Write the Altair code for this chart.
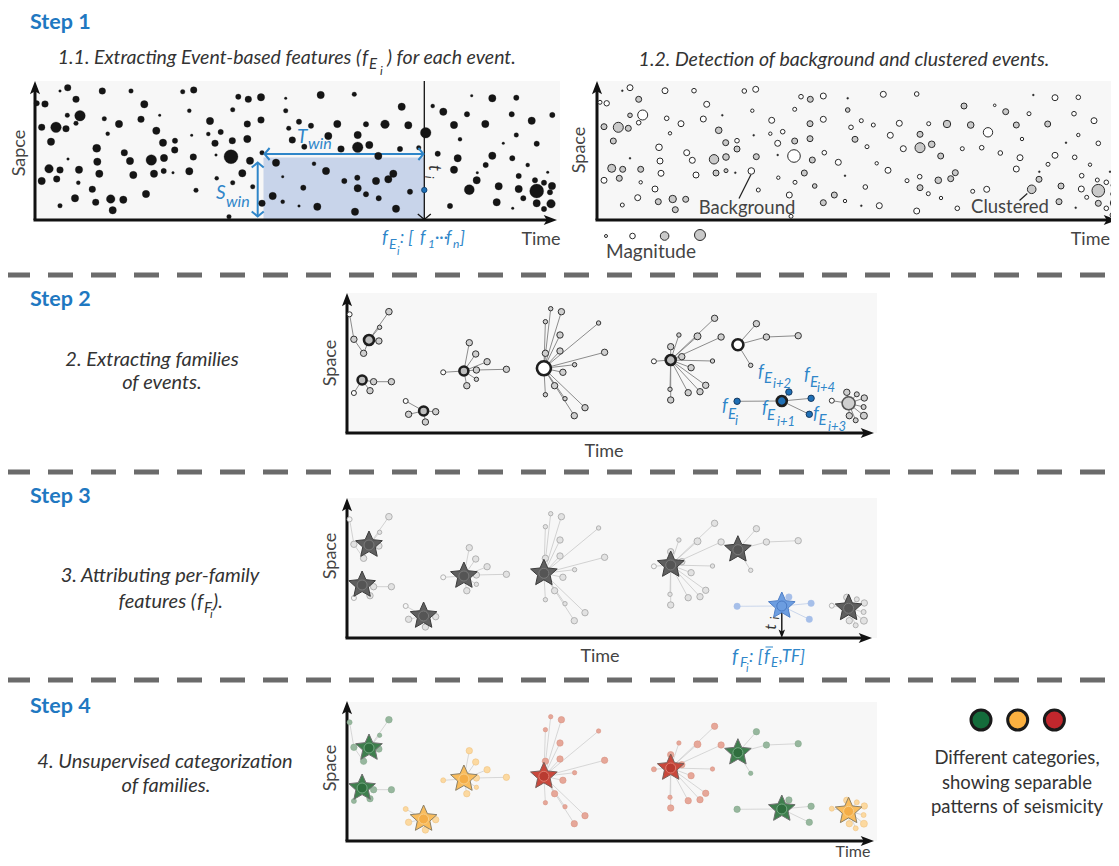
import math
import altair as alt
import pandas as pd

W, H = 1103, 850

# ---------------- DATA ----------------
# Step 1.1 events: (time, space, magnitude radius)
P11_EVENTS = [
    (67.7,87.7,3.3),(60,91,1.3),(102.3,91,3.3),(131,91,2.3),(182.7,91.7,2.3),(193.7,90,3.3),
    (36.7,103.3,2.7),(45,104,3.3),(76,99.3,3.3),(144.3,104.3,3.7),(238.3,96.7,2.7),(248.3,99.3,3.3),
    (261,97.3,3.7),(285.7,98.3,1.3),(80,115.7,5.3),(67.3,115.3,2.3),(104.3,118.7,2.3),(141,119.3,3.3),
    (159.7,115.3,1.3),(189.3,110.7,2),(232.7,109.7,2.3),(285.7,110.7,2.3),(41.7,127.3,3.3),(56,127.3,5.3),
    (66,128.7,3.3),(76,123.3,2.3),(119,124,3.7),(210,121,3.7),(247.3,124,3.3),(261,120,3.3),(288.7,128.3,2.3),
    (107.7,133.7,2),(156.3,130.7,3.7),(191.7,135.3,1.3),(208.3,134,2),(220.7,132,2.7),(51,141.7,3.7),
    (163,142.7,3.7),(175,140.7,2.7),(215,143.3,3.3),(232.3,140.7,3.3),(247.3,139,3.7),(292.3,140,3.3),
    (96.7,148.3,4),(174.7,150,3.3),(124.3,152.7,3.3),(231,156.7,7),(193.3,157,3.3),(216,155,1.3),
    (262,152.7,2.3),(68,159,1.3),(97.3,161.7,3.7),(130,161,3.7),(151.3,160,5.3),(164,158,3.7),
    (250,160.7,3.7),(276,162.7,3.7),(49,168.7,4.3),(60,170,3.3),(79,169.7,3.7),(99.3,173.7,3.7),
    (133.3,175,3.7),(154,173.7,3.7),(163.7,171,2.7),(173,172.7,1.3),(189.3,171.3,3.7),(242.3,173.3,3.7),
    (41.7,181,3.7),(56.7,179,3.3),(78.3,182.7,2),(232.7,182.7,2.3),(282.7,176.7,1.3),(252.7,186.7,2.3),
    (92.3,189.3,3.3),(196,190.3,2.3),(146,194,3.7),(75,198.3,3.7),(110.7,199,4.3),(123.3,199.7,3.7),
    (95.7,202.3,3.3),(60,205.7,2.3),(112.7,210.3,3.7),(262,203.3,3.3),(272.7,196,3.7),(282.7,201.7,2),
    (216.7,178.3,2),(229,216.7,2.3),
    (320.7,95,3.7),(354.3,94.3,2.3),(401.7,106.7,3.7),(299,121.7,2.7),(311,125.7,2.7),(337.3,124,3.7),
    (366,124.3,2.7),(385,124.3,4.3),(408.3,125.3,3.7),(425.7,132.7,5.3),(328.3,136,3.7),(357.7,135,3.7),
    (304.3,146.7,2.7),(341,149,3.3),(357.7,147.3,5.3),(369.3,145,3.7),(400,149,2.7),(418.7,147.7,2.3),
    (378.3,156,3.7),(314,163.7,2),(326,171,3.7),(344.3,181,2.7),(357.3,177.7,2.7),(376,181,3.7),
    (388.3,179.3,3.7),(393.3,173.7,3.7),(303.3,187.7,2.7),(357.7,188.3,3.7),(366,194.3,2.7),(410,191.7,2.7),
    (378.7,198.3,2.7),(299,206,1.3),(317.3,206.7,3.7),(355,211.7,3.7),(396,208.7,3.7),
    (432.7,106,2),(443.3,111.7,3.7),(471.7,95.7,1.3),(492.3,98.3,3.7),(516.3,97.7,2.7),(467,114.3,2.7),
    (511.7,114.3,2.7),(531.7,120.7,3.7),(552.3,115,2.7),(454,125,3.7),(485.3,124,3.7),(516.3,135,2.3),
    (460,139.3,2),(503.3,143.3,1.3),(536.7,143.7,2.7),(437.7,153.7,2.7),(457.7,158.3,3.7),(492.3,155.7,3.7),
    (512.3,158.3,2.7),(454,169.7,3.7),(485.7,165,2.7),(527.7,165,2),(477.3,172.7,1.3),(547.7,172.3,1.3),
    (518.7,176,2.7),(476.7,180.3,3.7),(469.3,189.7,5),(498.7,186.3,3.7),(518.7,189,3.7),(536.7,191,7),
    (535,180.3,2.7),(544,182.7,2.7),(552,186,3.7),(523.3,198.3,2.7),(550,192.3,2.7),(496.7,202.3,3.7),
    (536.7,203.3,3.7),(551,203.7,4.3),(512.7,208.3,1.3),(544,209,2.7),(450,206,2.7),
]
P11_FOCUS = [(424.3, 190.0, 2.7)]

# Step 1.2 events: (time, space, magnitude radius, class) o=background g=clustered d=tiny
P12_EVENTS = [
    (622.3,90.7,1,'d'),(630,87.7,3,'o'),(665,90.7,3,'o'),(694,90.7,2.3,'o'),(744.3,91,2.3,'o'),(755.7,89.3,3,'o'),
    (600,102.3,2,'o'),(606.7,103.3,2.7,'o'),(638.7,99.3,3,'g'),(706.7,104.3,3,'o'),(801,96.7,2.3,'o'),
    (810.3,99.3,3,'g'),(823.3,96,3,'o'),(847.7,98.3,1,'d'),(630,115.3,2.3,'g'),(642.7,115,5,'o'),
    (638.7,122.7,2.3,'o'),(666.7,118.3,2.3,'o'),(681,123.7,3,'o'),(703.3,119,3,'o'),(722.3,115.3,1,'d'),
    (752.3,110.7,1.7,'o'),(794.7,109.3,2,'o'),(847.7,110,2.3,'g'),(604,126.7,3,'g'),(618.3,127.3,5,'g'),
    (628.3,128.3,3,'g'),(670,133.3,1.7,'o'),(718.7,130.3,3.3,'g'),(753.7,135.3,1,'d'),(771.7,120.3,3,'o'),
    (770.3,133.7,1.7,'o'),(782.7,131.7,2.3,'o'),(810,123.7,3,'g'),(823.3,119.3,3,'o'),(851,127.3,2.3,'o'),
    (613.3,141,3,'g'),(725.7,142.7,3,'g'),(737,140.7,2.3,'o'),(777.7,143.3,3,'o'),(794.7,141,3,'g'),
    (810,138.7,3,'g'),(855,139.3,3,'g'),(659,147.3,3.3,'o'),(737,149,3,'g'),(686.7,152.7,3,'o'),
    (794,156,6.3,'o'),(756.3,156.7,3,'g'),(777.7,155,1,'d'),(824.3,152.7,2.3,'o'),(630,158.3,1,'d'),
    (660,161,3,'o'),(692.3,160.3,3,'o'),(714,159.3,4.7,'g'),(726,157,3.3,'g'),(812.3,160,3,'g'),
    (838.3,162.3,3,'o'),(611.7,168.3,4,'g'),(622.7,169.3,3,'g'),(640.7,169.3,3,'g'),(661,173.3,3,'o'),
    (696,175,3,'o'),(716,173,3,'g'),(726,170.7,2,'g'),(735.3,172.7,1,'d'),(751.3,171,3.3,'o'),
    (804.3,173,3,'g'),(604,180.3,3,'o'),(619.3,178.3,3,'g'),(640.7,182.3,1.7,'o'),(778.3,177.7,1.7,'o'),
    (795,182.3,2,'o'),(845,175.7,1,'d'),(814.7,186,2.3,'g'),(655,189,3,'o'),(758.3,190,2,'o'),
    (637.7,197.7,3,'o'),(622.3,205,2,'o'),(658.3,201.7,3,'g'),(672.7,199,3.7,'g'),(685.7,199.3,3,'g'),
    (675.3,209.7,3,'g'),(789.3,195,3,'o'),(834.3,195,3,'g'),(823.3,202.7,3,'g'),(845,201,1.7,'o'),
    (791,216.3,2,'o'),
    (883.3,94.3,3,'o'),(916.7,94,2.3,'o'),(964,106,3,'g'),(994.7,105.3,1.3,'o'),(1005.7,111.7,3,'g'),
    (1033.3,95,1,'d'),(1055,97.7,3,'o'),(1078.3,97.3,2.3,'o'),(1029,113.7,2,'o'),(1074,113.7,2.3,'o'),
    (1094,120.7,3,'o'),(1114.7,114.3,2.3,'o'),(861.3,120.7,2,'o'),(873.3,125,2,'o'),(899.3,123.3,3,'o'),
    (928.7,123.7,2,'o'),(947,124,3.7,'g'),(970.7,125,3.3,'g'),(988,132.3,4.7,'o'),(1016.3,125,3,'g'),
    (1047.7,124,3,'g'),(1078.3,135,1.7,'o'),(867,146.7,2,'o'),(890.3,135.3,3,'o'),(920,134.3,3,'g'),
    (903.3,148.7,3,'o'),(920,147.7,5,'g'),(931.7,144.3,3.3,'g'),(940.7,156,3,'g'),(962.3,148.7,2,'o'),
    (981.7,147.7,2.3,'o'),(1000.3,153,2.3,'o'),(1022,139,1.7,'o'),(1066,142.7,1,'d'),(1098.3,143.3,2.3,'o'),
    (1020,157.7,3,'o'),(1055,155.3,3,'o'),(1074.7,157.3,2.3,'o'),(876.7,163.3,1.7,'o'),(888,170.3,3,'o'),
    (1048,164.3,2,'o'),(1090,164.7,1.7,'o'),(1016.3,169,3,'o'),(1039.3,171.7,1,'d'),(1110,171.7,1,'d'),
    (955.3,172.7,3,'g'),(950.7,178.7,3,'g'),(938.3,180.3,3.3,'g'),(919.7,176.7,2.3,'o'),(907,180.7,2,'o'),
    (1039,179.3,3,'g'),(1081.7,175.7,2.3,'o'),(1098.3,190.7,6.3,'g'),(1106.3,182.3,2.3,'o'),(1114,185.3,3,'g'),
    (1097.3,180,2,'o'),(865.3,187,2.3,'o'),(920,187.7,3,'g'),(928.3,193.7,2,'o'),(941,198,1.7,'o'),
    (972.7,191.3,2,'o'),(986.7,189.3,3,'o'),(1031.7,189.3,4.3,'g'),(1061,186,3,'g'),(1081.3,189,3,'o'),
    (1086.7,197.3,2,'o'),(1113,194,2.3,'o'),(861.3,205.7,1,'d'),(879.3,205.7,3,'o'),(916.7,211,3,'o'),
    (957.3,208.3,2.3,'o'),(1059,201.7,3,'g'),(1075.7,207.7,1,'d'),(1098.3,203.3,3,'g'),(1106.3,208.3,2.3,'o'),
    (1114,203,3.7,'g'),(1112.3,215,2.3,'o'),
]
MAG_LEGEND = [(606,236,1.5,'o'),(632.5,236,2.8,'o'),(664.6,236,4.3,'g'),(700,235,5.5,'g')]

# Families: events as (time, space, radius, kind, parent index); index 0 is the main event
FAMILIES = [
    dict(cat='green', main=(22,93,5,'ring'), members=[
        (41.9,121.3,3.3,'g',0),(32.6,105.7,2.2,'g',0),(31.9,92,3.2,'g',0),(16.6,79.7,3.2,'g',0),
        (6.9,93.7,3.2,'g',4),(2.6,118.7,2.5,'o',5)]),
    dict(cat='green', main=(15.1,53,4.5,'ring'), members=[
        (26.6,51.3,3.2,'g',0),(44.4,51.3,3.2,'g',1),(23,42.3,3.2,'g',0),(6.9,40,2.5,'o',0)]),
    dict(cat='yellow', main=(76.6,22,4.5,'ring'), members=[
        (58.7,32,2.5,'o',0),(61.6,18.7,3.2,'g',0),(88.7,21.3,3.2,'g',0),(78.4,11,3.2,'g',0)]),
    dict(cat='yellow', main=(116.9,62,4.5,'ring'), members=[
        (96.2,60.7,2.5,'o',0),(122.3,90.3,3.2,'g',0),(128.7,79,3.2,'g',0),(140.1,71.3,3.2,'g',0),
        (129.4,63,3.2,'g',0),(159.4,63.7,3.2,'g',5),(129.4,53.7,2.2,'g',0),(119.8,47.3,3.2,'g',0)]),
    dict(cat='red', main=(196.9,64.7,7,'open'), members=[
        (203.7,124.3,2.2,'g',0),(214.4,121.3,3.2,'g',0),(198.4,111.3,2.2,'g',0),(213,98,3.2,'g',0),
        (251.6,110,2.2,'g',0),(213,82,3.2,'g',0),(198.4,79.7,3.2,'g',0),(257.6,80.7,3.2,'g',0),
        (227.6,68.3,2.2,'g',0),(215.9,60.7,3.2,'g',0),(207.6,47.3,3.2,'g',0),(198.4,38.3,2.2,'g',0),
        (218,34.3,2.2,'g',0),(238,25.3,3.2,'g',0),(227.3,17.3,3.2,'g',0)]),
    dict(cat='red', main=(323.7,73,5,'ring'), members=[
        (306.9,71.7,2.5,'o',0),(367.6,114.7,3.2,'g',0),(331.9,98,2.2,'g',0),(350.5,96.7,3.5,'g',0),
        (374.1,96,3.2,'g',0),(323.7,86.3,3.2,'g',0),(334.8,76.3,3.2,'g',0),(365.5,72,2.2,'g',0),
        (344.1,65.3,3.2,'g',0),(358.7,47.7,3.2,'g',0),(353,41.3,3.2,'g',0),(323,43.7,2.2,'g',0),
        (341.2,40.3,3.2,'g',0),(323.7,33,3.2,'g',0)]),
    dict(cat='green', main=(390.9,88.3,5.5,'open'), members=[
        (409.4,109.3,3.2,'g',0),(419.4,96,3.2,'g',0),(451.2,97.3,3.2,'g',2),(403.7,67.7,2.2,'g',0)]),
    dict(cat='green', main=(434.8,32,5,'blue'), members=[
        (390.1,31.7,3.2,'b',0),(441.9,41,3.2,'b',0),(464.1,34.7,3.2,'b',0),(462.3,18.7,3.2,'b',0)]),
    dict(cat='yellow', main=(501.6,29.7,6.5,'plain'), members=[
        (484.8,32.3,2.5,'o',0),(499.8,40.7,3.2,'g',0),(509.8,38.7,2.5,'g',0),(517.3,35,3.2,'g',0),
        (516.6,26,2.5,'g',0),(516.9,17.3,3.5,'g',0),(502.3,17.3,3.2,'g',0),(508.7,12.7,2.5,'g',0)]),
]
HIGHLIGHT_FAMILY = 7
CATEGORIES = ['green', 'yellow', 'red']
CAT_COLORS = {'green': '#146c3b', 'yellow': '#fbb040', 'red': '#c1272d'}

# ---------------- LAYOUT / STYLE ----------------
PANEL_ORIGIN = {2: (347, 433), 3: (347, 638), 4: (347, 841)}
BLUE = '#2f86c9'
STEP_BLUE = '#1f78c1'
TXT = '#333333'
LBL = '#444444'
CAT_STYLE = {
    'green': dict(star='#3f7f4e', sstroke='#6f6f6f', inner='#2f6e3e', istroke='#74a982', member='#97b79e', mstroke='#86a98d'),
    'yellow': dict(star='#f9bc5c', sstroke='#8c8066', inner='#f4ad47', istroke='#f8cf8a', member='#fcd9a0', mstroke='#eec383'),
    'red': dict(star='#c9483c', sstroke='#7a5f5a', inner='#b93b31', istroke='#e07b6e', member='#e6a799', mstroke='#d99383'),
}

rects, lines, dashes, heads, vheads = [], [], [], [], []
circ_under, stars, circ_over, texts = [], [], [], []


def circ(lst, x, y, r, fill, stroke, sw):
    lst.append(dict(x=x, y=y, size=(2 * r) ** 2, fill=fill, stroke=stroke, sw=sw))


def line(x, y, x2, y2, color, width):
    lines.append(dict(x=x, y=y, x2=x2, y2=y2, color=color, width=width))


def arrow_head(tx, ty, ang, r=7.0, color='#111111'):
    a = math.radians(ang)
    heads.append(dict(x=tx - r * math.sin(a), y=ty + r * math.cos(a), angle=ang,
                      size=(2 * r) ** 2, color=color))


def v_head(tx, ty, ang, r=6.0, color=BLUE, width=2.0):
    vheads.append(dict(x=tx, y=ty, angle=ang, size=(2 * r) ** 2, color=color, width=width))


def txt(x, y, s, size=17, color=TXT, style='normal', weight='normal', align='left', angle=0):
    texts.append(dict(x=x, y=y, text=s, size=size, color=color, style=style,
                      weight=weight, align=align, angle=angle))


def axes(ox, oy, ytop, xtip):
    line(ox, oy, ox, ytop + 8, '#111111', 3)
    line(ox - 1.5, oy, xtip - 8, oy, '#111111', 3)
    arrow_head(ox, ytop, 0)
    arrow_head(xtip, oy, 90)


# backgrounds
for bx, bx2, by, by2 in [(35, 560, 81, 220), (597, 1119, 81, 220), (347, 877, 293, 433),
                         (347, 877, 498, 638), (347, 877, 702, 841)]:
    rects.append(dict(x=bx, x2=bx2, y=by, y2=by2, fill='#f7f7f7'))
rects.append(dict(x=263.5, x2=424.3, y=157.5, y2=220, fill='#c8d4ea'))

# separators
for sy in [275, 472, 680]:
    dashes.append(dict(x=5, x2=1119, y=sy, y2=sy))

# ---- Step 1.1
axes(35, 220, 81, 557)
for (x, y, r) in P11_EVENTS:
    circ(circ_under, x, y, r, '#151515', '#151515', 0.3)
line(424.3, 81, 424.3, 219, '#111111', 1.3)
v_head(424.3, 219.5, 180, r=6.5, color='#111111', width=1.3)
for (x, y, r) in P11_FOCUS:
    circ(circ_over, x, y, r, '#1f6fb5', '#0d3a66', 0.8)
line(265, 154, 423, 154, BLUE, 2)
v_head(264.5, 154, 270)
v_head(423.5, 154, 90)
line(257.7, 163, 257.7, 216, BLUE, 2)
v_head(257.7, 162.5, 0)
v_head(257.7, 216.5, 180)

# ---- Step 1.2
axes(597, 220, 81, 1117)
P12_STYLE = {'o': ('white', '#2a2a2a', 1.0), 'g': ('#c9c9c9', '#2a2a2a', 1.0), 'd': ('#2a2a2a', '#2a2a2a', 0.3)}
for (x, y, r, k) in P12_EVENTS + MAG_LEGEND:
    f, s, w = P12_STYLE[k]
    circ(circ_under, x, y, r, f, s, w)
line(751, 174.5, 739, 198.5, '#222222', 1.2)
line(1027.3, 193.5, 1019.5, 200.5, '#222222', 1.2)

# ---- Steps 2-4 (families)
for step in (2, 3, 4):
    ox, oy = PANEL_ORIGIN[step]
    axes(ox, oy, oy - 140, 874 if step != 3 else 872)
for fi, fam in enumerate(FAMILIES):
    ev = [fam['main'][:4] + (None,)] + list(fam['members'])
    hl = fi == HIGHLIGHT_FAMILY
    cs = CAT_STYLE[fam['cat']]
    for step in (2, 3, 4):
        ox, oy = PANEL_ORIGIN[step]
        P = [(ox + t, oy - s) for (t, s, _r, _k, _p) in ev]
        for i, (t, s, r, k, p) in enumerate(ev):
            if p is None:
                continue
            if step == 2:
                col, w = '#8c8c8c', 1.0
            elif step == 3:
                col, w = ('#c5d2ea' if hl else '#cdcdcd'), 0.9
            else:
                col, w = '#d2d2d2', 0.9
            line(P[i][0], P[i][1], P[p][0], P[p][1], col, w)
        for i, (t, s, r, k, p) in enumerate(ev):
            if p is None:
                continue
            x, y = P[i]
            if step == 2:
                if k == 'b':
                    circ(circ_under, x, y, r, '#1f6fb5', '#173a60', 1.0)
                elif k == 'o':
                    circ(circ_under, x, y, r, 'white', '#333333', 1.0)
                else:
                    circ(circ_under, x, y, r, '#cfcfcf', '#333333', 1.0)
            elif step == 3:
                if hl:
                    circ(circ_under, x, y, r, '#a6bfe9', '#a6bfe9', 0.5)
                elif k == 'o':
                    circ(circ_under, x, y, r, '#f6f6f6', '#ababab', 0.9)
                else:
                    circ(circ_under, x, y, r, '#e2e2e2', '#ababab', 0.9)
            else:
                circ(circ_under, x, y, r, cs['member'], cs['mstroke'], 0.6)
        x, y = P[0]
        t, s, r, k, _ = ev[0]
        if step == 2:
            if k == 'ring':
                circ(circ_over, x, y, r, '#bdbdbd', '#1e1e1e', 2.6)
            elif k == 'open':
                circ(circ_over, x, y, r, 'white', '#1e1e1e', 2.6)
            elif k == 'blue':
                circ(circ_over, x, y, r, '#1f6fb5', '#1e1e1e', 2.6)
            else:
                circ(circ_over, x, y, r, '#cfcfcf', '#555555', 1.6)
        elif step == 3:
            if hl:
                stars.append(dict(x=x, y=y, size=28 ** 2, fill='#6c9de0', stroke='#4f7fc7', sw=1.0))
                circ(circ_over, x, y, 5, '#6c9de0', '#4a7ac4', 1.0)
            else:
                stars.append(dict(x=x, y=y, size=28 ** 2, fill='#5f5f5f', stroke='#3c3c3c', sw=1.0))
                circ(circ_over, x, y, 5, '#555555', '#7a7a7a', 1.0)
        else:
            stars.append(dict(x=x, y=y, size=28 ** 2, fill=cs['star'], stroke=cs['sstroke'], sw=1.0))
            circ(circ_over, x, y, 5, cs['inner'], cs['istroke'], 1.0)

# step 3 time arrow
hx = PANEL_ORIGIN[3][0] + FAMILIES[HIGHLIGHT_FAMILY]['main'][0]
hy = PANEL_ORIGIN[3][1] - FAMILIES[HIGHLIGHT_FAMILY]['main'][1]
line(hx, hy, hx, 632, '#111111', 1.4)
arrow_head(hx, 638, 180, r=4.5)

# legend circles
for i, c in enumerate(CATEGORIES):
    circ(circ_over, 981 + 36.7 * i, 720, 10, CAT_COLORS[c], '#1a1a1a', 3)

# ---------------- TEXT ----------------
for lab, y in [('Step 1', 23), ('Step 2', 300), ('Step 3', 497), ('Step 4', 707)]:
    txt(30, y, lab, size=21.5, color=STEP_BLUE, weight='bold')

# titles
txt(361, 58, '1.1. Extracting Event-based features (', size=19.5, style='italic', align='right')
txt(362, 58, 'f', size=19.5, style='italic')
txt(369, 64, 'E', size=15, style='italic')
txt(380, 71, 'i', size=12, style='italic')
txt(387, 58, ') for each event.', size=19.5, style='italic')
txt(844, 60, '1.2. Detection of background and clustered events.', size=19.5, style='italic', align='center')

# step descriptions
txt(152, 360, '2. Extracting families', size=20, style='italic', align='center')
txt(162, 383, 'of events.', size=20, style='italic', align='center')
txt(160, 576, '3. Attributing per-family', size=20, style='italic', align='center')
txt(196, 602, 'features (', size=20, style='italic', align='right')
txt(197, 602, 'f', size=20, style='italic')
txt(204, 608, 'F', size=15, style='italic')
txt(210, 614, 'i', size=12, style='italic')
txt(213, 602, ').', size=20, style='italic')
txt(165, 762, '4. Unsupervised categorization', size=20, style='italic', align='center')
txt(166, 786, 'of families.', size=20, style='italic', align='center')

# axis labels
txt(20, 153, 'Sapce', size=18, color=LBL, align='center', angle=270)
txt(580, 150, 'Space', size=18, color=LBL, align='center', angle=270)
txt(331, 363, 'Space', size=18, color=LBL, align='center', angle=270)
txt(331, 556, 'Space', size=18, color=LBL, align='center', angle=270)
txt(331, 768, 'Space', size=18, color=LBL, align='center', angle=270)
txt(541, 240, 'Time', size=18, color=LBL, align='center')
txt(1110, 240, 'Time', size=18, color=LBL, align='right')
txt(604, 452, 'Time', size=18, color=LBL, align='center')
txt(600, 657, 'Time', size=18, color=LBL, align='center')
txt(853, 851.5, 'Time', size=16, color=LBL, align='center')

txt(747, 208, 'Background', size=18.5, color=LBL, align='center')
txt(1010, 207, 'Clustered', size=18.5, color=LBL, align='center')
txt(651, 252, 'Magnitude', size=19, color=LBL, align='center')

# step 1 blue annotations
txt(297, 137, 'T', size=19, color=BLUE, style='italic')
txt(308, 144, 'win', size=16, color=BLUE, style='italic')
txt(216, 193, 'S', size=19, color=BLUE, style='italic')
txt(226, 201.5, 'win', size=16, color=BLUE, style='italic')
txt(382, 238, 'f', size=18, color=BLUE, style='italic')
txt(389, 245, 'E', size=14, color=BLUE, style='italic')
txt(397, 252, 'i', size=11, color=BLUE, style='italic')
txt(400, 238, ': [', size=17, color=BLUE, style='italic')
txt(420, 238, 'f', size=17, color=BLUE, style='italic')
txt(428, 244, '1', size=12, color=BLUE, style='italic')
txt(435, 238, '···', size=17, color=BLUE, style='italic')
txt(446, 238, 'f', size=17, color=BLUE, style='italic')
txt(453, 244, 'n', size=12, color=BLUE, style='italic')
txt(460, 238, ']', size=17, color=BLUE, style='italic')
txt(434, 168, 't', size=17, color=TXT, style='italic', align='center', angle=90)
txt(429, 177, 'i', size=12, color=TXT, style='italic', align='center', angle=90)

# step 2 blue labels: f (x, y), E (x, y), subscript (x, y, text)
for (fx, fy, ex, ey, sx, sy, sub) in [(722, 406, 728, 414, 735, 421, 'i'),
                                       (758, 372, 764, 378, 773, 384, 'i+2'),
                                       (762, 408, 767, 415, 777, 422, 'i+1'),
                                       (804, 375, 810, 382, 817, 388, 'i+4'),
                                       (813, 414, 818.5, 420, 828, 427, 'i+3')]:
    txt(fx, fy, 'f', size=18, color=BLUE, style='italic')
    txt(ex, ey, 'E', size=15, color=BLUE, style='italic')
    txt(sx, sy, sub, size=13, color=BLUE, style='italic')

# step 3 labels
txt(771, 627, 't', size=16, color=TXT, style='italic', align='center', angle=270)
txt(775, 618, 'i', size=12, color=TXT, style='italic', align='center', angle=270)
txt(732, 657, 'f', size=19, color=BLUE, style='italic')
txt(740, 663, 'F', size=14, color=BLUE, style='italic')
txt(746, 669, 'i', size=11, color=BLUE, style='italic')
txt(749, 657, ': [', size=18, color=BLUE, style='italic')
txt(764, 657, 'f', size=18, color=BLUE, style='italic')
line(765.5, 647, 773, 647, BLUE, 1)
txt(771, 663, 'E', size=13, color=BLUE, style='italic')
txt(779, 657, ',TF]', size=17, color=BLUE, style='italic')

# legend text
txt(1017, 758, 'Different categories,', size=18.5, color=TXT, align='center')
txt(1017, 783, 'showing separable', size=18.5, color=TXT, align='center')
txt(1017, 807, 'patterns of seismicity', size=18.5, color=TXT, align='center')

# ---------------- CHART ----------------
XS = alt.Scale(domain=[8, 8 + W], nice=False, zero=False)
YS = alt.Scale(domain=[8, 8 + H], nice=False, zero=False, reverse=True)


def X(f='x'):
    return alt.X(f + ':Q', scale=XS, axis=None)


def Y(f='y'):
    return alt.Y(f + ':Q', scale=YS, axis=None)


STAR_PATH = 'M' + 'L'.join(
    f'{(1 if k % 2 == 0 else 0.47) * math.cos(-math.pi / 2 + k * math.pi / 5):.4f},'
    f'{(1 if k % 2 == 0 else 0.47) * math.sin(-math.pi / 2 + k * math.pi / 5):.4f}'
    for k in range(10)) + 'Z'
ARROW_PATH = 'M0,-1L0.72,0.9L0,0.45L-0.72,0.9Z'
V_PATH = 'M-1,0.85L0,0L1,0.85'

layers = []
layers.append(alt.Chart(pd.DataFrame(rects)).mark_rect().encode(
    x=X(), x2='x2:Q', y=Y(), y2='y2:Q', fill=alt.Fill('fill:N', scale=None)))
layers.append(alt.Chart(pd.DataFrame(dashes)).mark_rule(
    strokeDash=[25, 18], strokeWidth=5, color='#6b6b6b').encode(
    x=X(), x2='x2:Q', y=Y(), y2='y2:Q'))
layers.append(alt.Chart(pd.DataFrame(lines)).mark_rule().encode(
    x=X(), x2='x2:Q', y=Y(), y2='y2:Q',
    color=alt.Color('color:N', scale=None), strokeWidth=alt.StrokeWidth('width:Q', scale=None)))


def points(df, shape):
    return alt.Chart(pd.DataFrame(df)).mark_point(shape=shape, opacity=1, fillOpacity=1, strokeOpacity=1).encode(
        x=X(), y=Y(), size=alt.Size('size:Q', scale=None),
        fill=alt.Fill('fill:N', scale=None), stroke=alt.Stroke('stroke:N', scale=None),
        strokeWidth=alt.StrokeWidth('sw:Q', scale=None))


layers.append(points(circ_under, 'circle'))
layers.append(points(stars, STAR_PATH))
layers.append(points(circ_over, 'circle'))
layers.append(alt.Chart(pd.DataFrame(heads)).mark_point(shape=ARROW_PATH, filled=True, opacity=1, strokeWidth=0).encode(
    x=X(), y=Y(), size=alt.Size('size:Q', scale=None), angle=alt.Angle('angle:Q', scale=None),
    fill=alt.Fill('color:N', scale=None)))
layers.append(alt.Chart(pd.DataFrame(vheads)).mark_point(shape=V_PATH, filled=False, opacity=1).encode(
    x=X(), y=Y(), size=alt.Size('size:Q', scale=None), angle=alt.Angle('angle:Q', scale=None),
    stroke=alt.Stroke('color:N', scale=None), strokeWidth=alt.StrokeWidth('width:Q', scale=None)))

tdf = pd.DataFrame(texts)
for (style, weight, align), grp in tdf.groupby(['style', 'weight', 'align']):
    layers.append(alt.Chart(grp).mark_text(
        font='Lato', fontStyle=style, fontWeight=weight, align=align, baseline='middle').encode(
        x=X(), y=Y(), text='text:N', size=alt.Size('size:Q', scale=None),
        color=alt.Color('color:N', scale=None), angle=alt.Angle('angle:Q', scale=None)))

chart = alt.layer(*layers).properties(
    width=W, height=H, padding=0, autosize=alt.AutoSizeParams(type='none'),
    background='white').configure_view(stroke=None)

chart.save("out.html", embed_options={"renderer": "svg", "actions": False})
